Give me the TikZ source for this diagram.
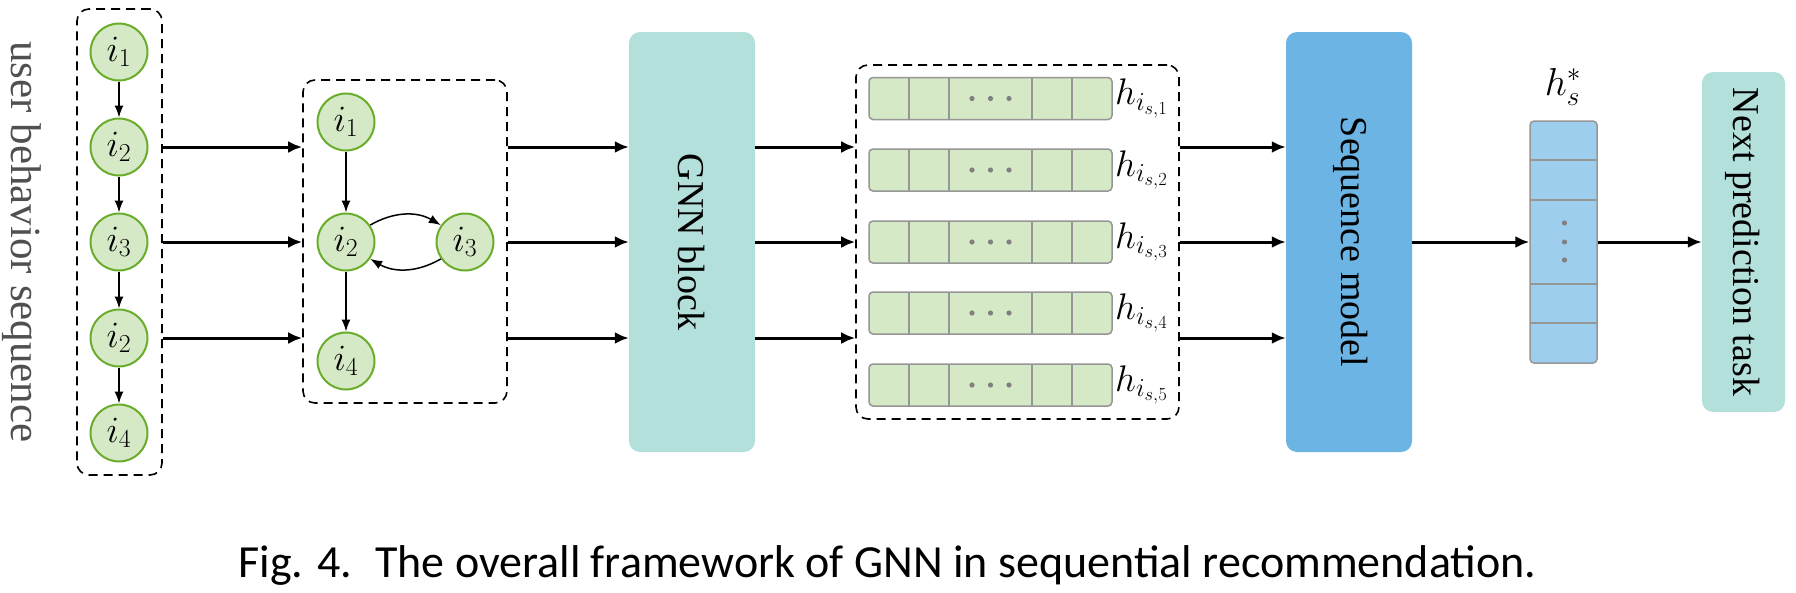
\documentclass[tikz,border=0pt]{standalone}
\usepackage{fix-cm}
\usepackage{fontspec}
\setmainfont{Liberation Serif}
\newfontfamily\capfont{Carlito}
\usetikzlibrary{arrows.meta}
\definecolor{itemfill}{RGB}{214,233,198}
\definecolor{itemline}{RGB}{106,172,44}
\definecolor{cellline}{RGB}{150,150,150}
\definecolor{gnnfill}{RGB}{180,224,220}
\definecolor{seqfill}{RGB}{108,180,228}
\definecolor{hsfill}{RGB}{158,206,237}
\definecolor{dotgray}{RGB}{128,128,128}
\definecolor{txtgray}{RGB}{80,80,80}
\begin{document}
\begin{tikzpicture}[x=1pt,y=-1pt,
  dbox/.style={draw, dash pattern=on 9pt off 6pt, line width=1.6pt, rounded corners=12pt, inner sep=0pt},
  item/.style={circle, draw=itemline, fill=itemfill, line width=2pt, minimum size=57pt, inner sep=0pt, font=\fontsize{37}{40}\selectfont},
  thinarrow/.style={-{Latex[length=12pt,width=9pt]}, line width=1.5pt},
  thickarrow/.style={-{Latex[length=14pt,width=12pt]}, line width=3pt},
  block/.style={rounded corners=11pt, inner sep=0pt},
  vec/.style={draw=cellline, fill=itemfill, line width=1.5pt, rounded corners=4pt, minimum width=243pt, minimum height=42pt, inner sep=0pt},
  cell/.style={draw=cellline, line width=1.5pt},
  blocktext/.style={rotate=-90, font=\fontsize{38}{42}\selectfont, inner sep=0pt},
  lab/.style={anchor=west, inner sep=0pt, font=\fontsize{37}{40}\selectfont}
]
\fill[white] (0,0) rectangle (1796,592);
\useasboundingbox (0,0) rectangle (1796,592);

% left text
\node[rotate=-90, text=txtgray, font=\fontsize{43}{48}\selectfont, inner sep=0pt] (ubs) at (22,242) {user behavior sequence};

% left sequence
\node[dbox, minimum width=85pt, minimum height=466pt] (lbox) at (119.5,242) {};
\node[item] (l1) at (119,52) {$i_1$};
\node[item] (l2) at (119,147) {$i_2$};
\node[item] (l3) at (119,242) {$i_3$};
\node[item] (l4) at (119,338) {$i_2$};
\node[item] (l5) at (119,433) {$i_4$};
\draw[thinarrow] (l1) -- (l2);
\draw[thinarrow] (l2) -- (l3);
\draw[thinarrow] (l3) -- (l4);
\draw[thinarrow] (l4) -- (l5);

% middle graph
\node[dbox, minimum width=204pt, minimum height=323pt] (mbox) at (405,241.5) {};
\node[item] (m1) at (346,122) {$i_1$};
\node[item] (m2) at (346,242) {$i_2$};
\node[item] (m3) at (465,242) {$i_3$};
\node[item] (m4) at (346,361) {$i_4$};
\draw[thinarrow] (m1) -- (m2);
\draw[thinarrow] (m2) -- (m4);
\draw[thinarrow] (m2.35) to[bend left=30] (m3.145);
\draw[thinarrow] (m3.215) to[bend left=30] (m2.-35);

% GNN block
\node[block, fill=gnnfill, minimum width=126pt, minimum height=420pt] (gnn) at (692,242) {};
\node[blocktext] (gnnt) at (691.5,242) {GNN block};

% embeddings
\node[dbox, minimum width=323pt, minimum height=354pt] (hbox) at (1017.5,242) {};
\foreach \k/\y in {1/98.5,2/170,3/242,4/313,5/385}{
  \node[vec] (r\k) at (990.5,\y) {};
  \foreach \x in {909,949,1032,1072}
    \draw[cell] (\x,\y-21) -- (\x,\y+21);
  \foreach \x in {972,990.5,1009}
    \fill[dotgray] (\x,\y) circle (2.6pt);
  \node[lab] (lab\k) at (1115,\y) {$h_{i_{s,\k}}$};
}

% sequence model
\node[block, fill=seqfill, minimum width=126pt, minimum height=420pt] (seq) at (1349,242) {};
\node[blocktext] (seqt) at (1351,242) {Sequence model};

% h*_s
\node[draw=cellline, fill=hsfill, line width=1.5pt, rounded corners=4pt, minimum width=67pt, minimum height=242pt, inner sep=0pt] (hs) at (1563.5,242) {};
\foreach \y in {160,200,284,323}
  \draw[cell] (1530,\y) -- (1597,\y);
\foreach \y in {223,242,260}
  \fill[dotgray] (1564.5,\y) circle (2.6pt);
\node[font=\fontsize{39}{42}\selectfont, inner sep=0pt] (hsl) at (1563,87) {$h_s^*$};

% next prediction
\node[block, fill=gnnfill, minimum width=83pt, minimum height=340pt] (next) at (1743.5,242) {};
\node[blocktext] (nextt) at (1743,242) {Next prediction task};

% thick arrows
\foreach \n in {l2,l3,l4}{
  \draw[thickarrow] (\n -| lbox.east) -- (\n -| mbox.west);
  \draw[thickarrow] (\n -| mbox.east) -- (\n -| gnn.west);
  \draw[thickarrow] (\n -| gnn.east) -- (\n -| hbox.west);
  \draw[thickarrow] (\n -| hbox.east) -- (\n -| seq.west);
}
\draw[thickarrow] (seq) -- (hs);
\draw[thickarrow] (hs) -- (next);

% caption
\node[font=\capfont\fontsize{46}{50}\selectfont, anchor=base, inner sep=0pt] (cap) at (887.5,577) {Fig. 4.\hspace{0.5em}The overall framework of GNN in sequential recommendation.};
\end{tikzpicture}
\end{document}
